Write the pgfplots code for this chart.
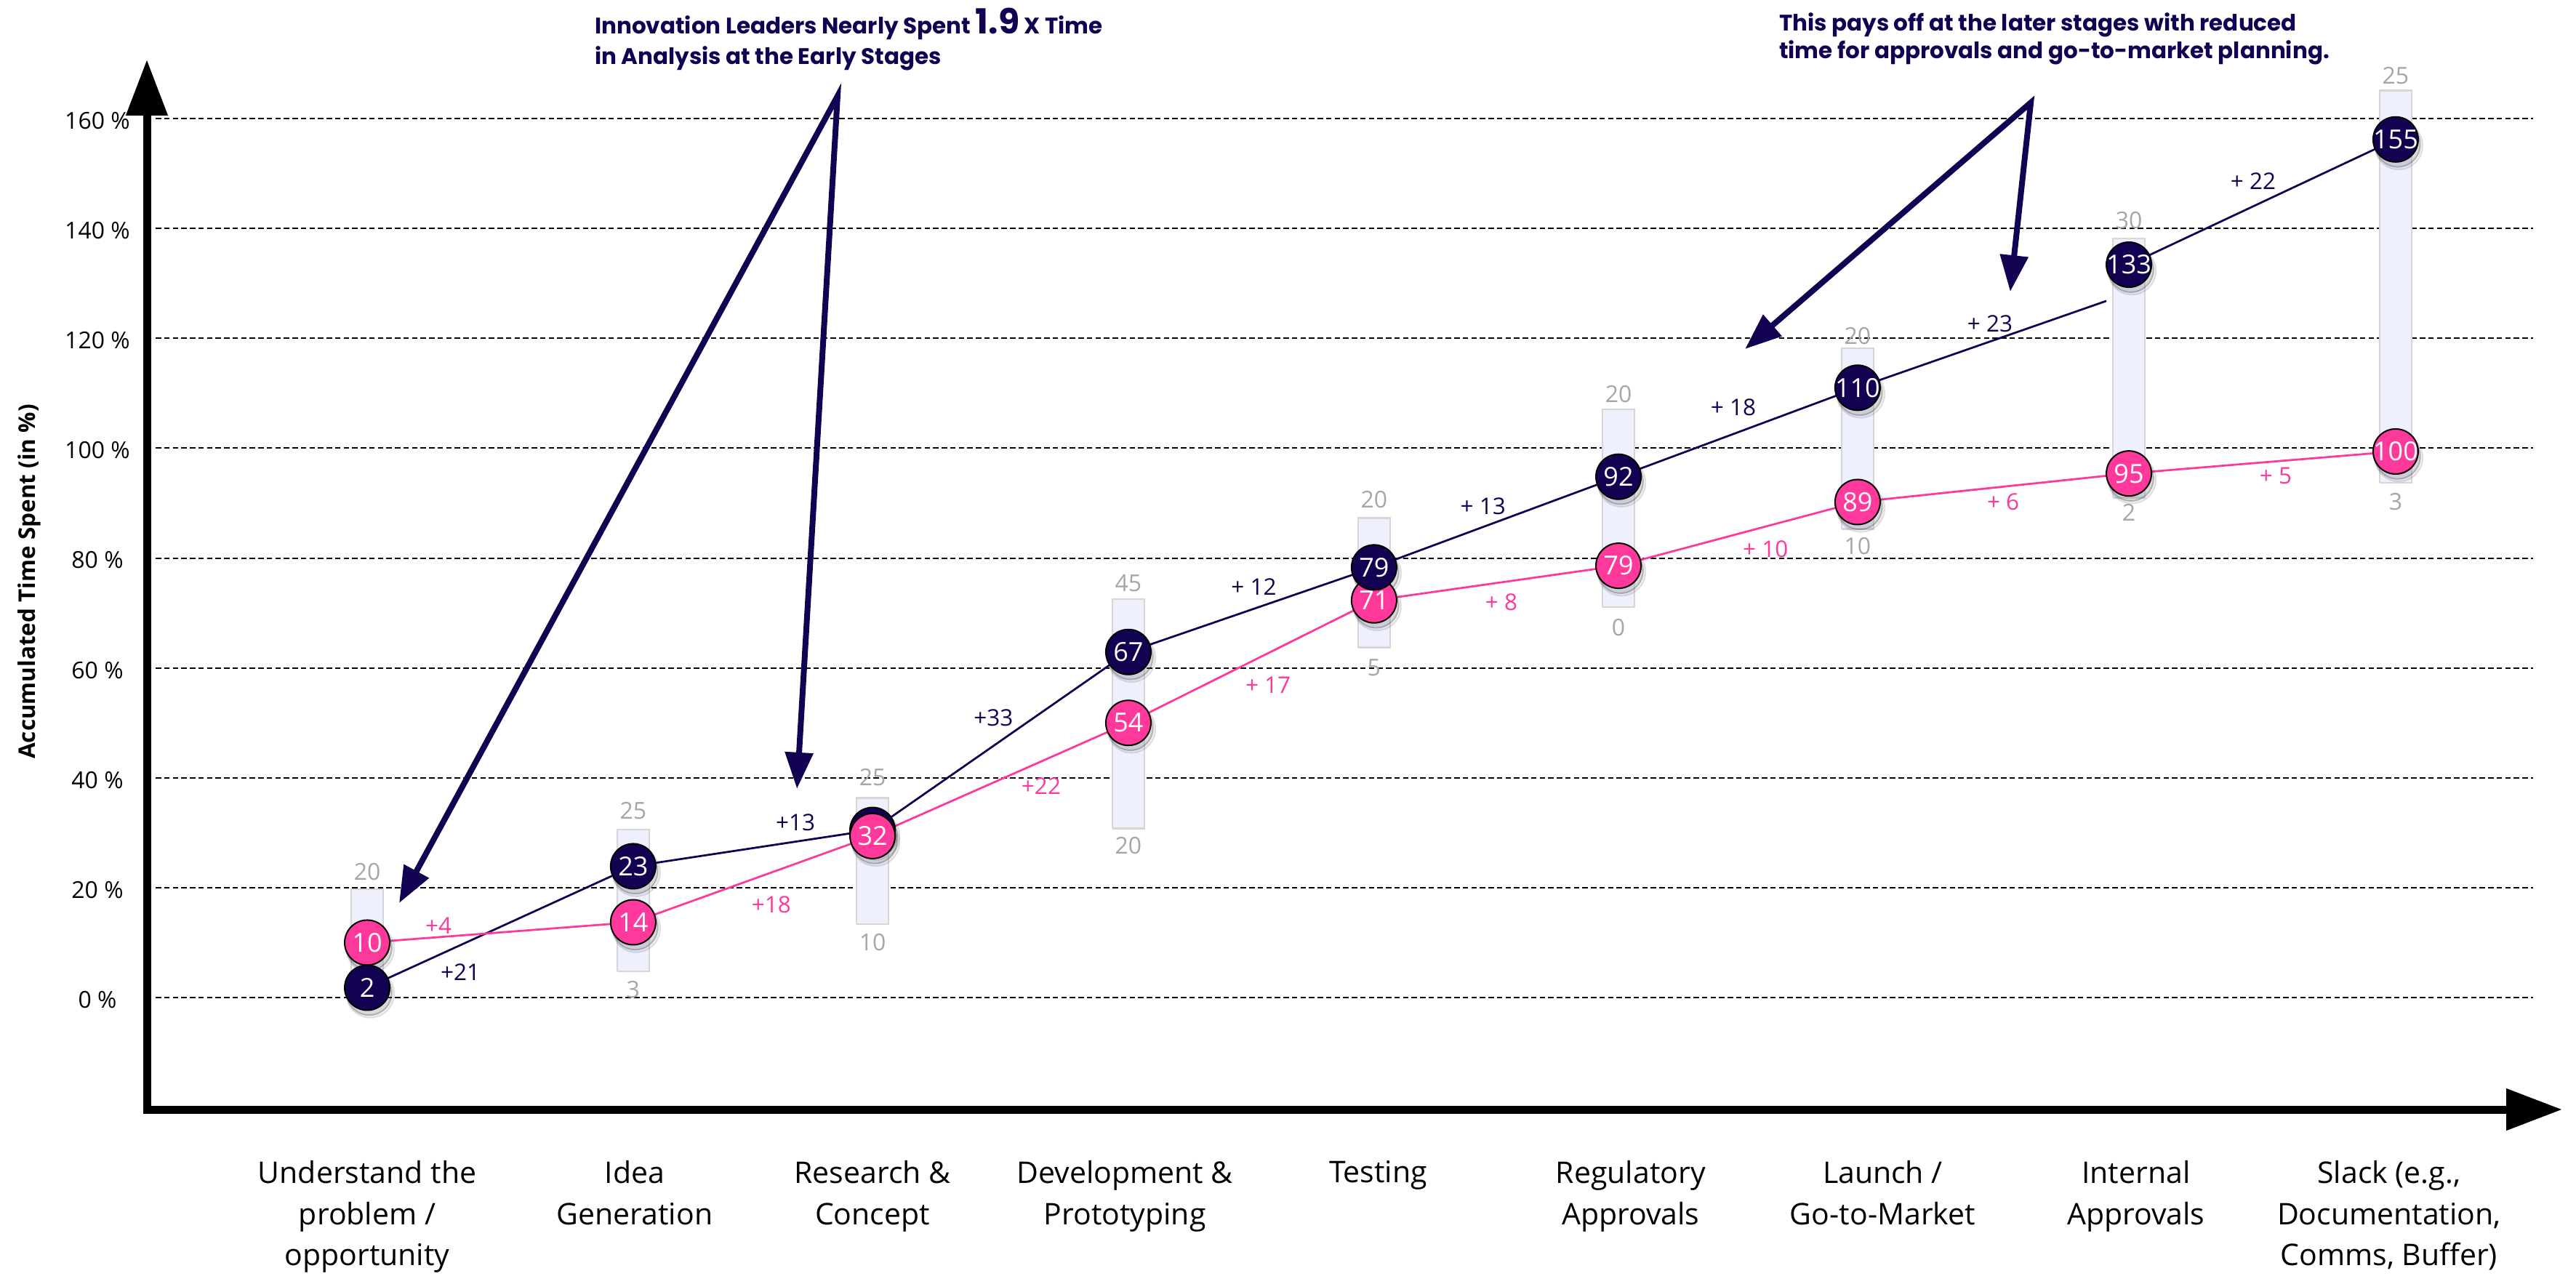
\documentclass[border=0pt]{standalone}
\usepackage{fontspec}
\setmainfont{Open Sans}
\newfontfamily\poppins{Poppins}
\usepackage{pgfplots}
\pgfplotsset{compat=1.18}
\usetikzlibrary{arrows.meta}
\definecolor{navy}{RGB}{19,2,82}
\definecolor{pinkc}{RGB}{255,56,156}
\definecolor{barfill}{RGB}{238,241,253}
\definecolor{barline}{RGB}{214,214,214}
\definecolor{lblgray}{RGB}{166,166,166}
\newcommand\fs[2]{\fontsize{#1}{#2}\selectfont}
\begin{document}
\begin{tikzpicture}
\path[use as bounding box] (0,0) rectangle (708.6pt,350.8pt);
\begin{axis}[
  at={(40.4pt,45.6pt)}, anchor=south west,
  scale only axis, width=664.4pt, height=288.8pt,
  xmin=-0.869, xmax=8.657, ymin=-20.38, ymax=170.73,
  clip=false,
  axis x line*=bottom, axis y line*=left,
  axis line style={line width=2.2pt, line cap=rect, -{Triangle[length=15.4pt,width=11pt]}},
  major tick length=0pt,
  ytick={0,20,40,60,80,100,120,140,160},
  yticklabels={0 \%,20 \%,40 \%,60 \%,80 \%,100 \%,120 \%,140 \%,160 \%},
  yticklabel style={anchor=center, inner sep=0pt, xshift=-13.6pt, yshift=-0.6pt, font=\fs{6.4}{7.5}},
  xtick={0,1.055,1.993,2.988,3.987,4.983,5.977,6.976,7.974},
  xticklabels={{Understand the\\problem /\\opportunity},{Idea\\Generation},{Research \&\\Concept},{Development \&\\Prototyping},{Testing},{Regulatory\\Approvals},{Launch /\\Go-to-Market},{Internal\\Approvals},{Slack (e.g.,\\Documentation,\\Comms, Buffer)}},
  xticklabel style={anchor=north, align=center, inner sep=0pt, yshift=-13.9pt, font=\fs{8.2}{11.3}},
]
% grid lines
\pgfplotsinvokeforeach{0,20,40,60,80,100,120,140,160}{
  \addplot[black, line width=0.4pt, dash pattern=on 1.5pt off 0.85pt] coordinates {(-0.834,#1) (8.542,#1)};
}
% range bars
\addplot[fill=barfill, draw=barline, line width=0.5pt] coordinates {(-0.063,0) (0.063,0) (0.063,19.7) (-0.063,19.7) (-0.063,0)};
\addplot[fill=barfill, draw=barline, line width=0.5pt] coordinates {(0.986,4.8) (1.112,4.8) (1.112,30.6) (0.986,30.6) (0.986,4.8)};
\addplot[fill=barfill, draw=barline, line width=0.5pt] coordinates {(1.930,13.4) (2.056,13.4) (2.056,36.3) (1.930,36.3) (1.930,13.4)};
\addplot[fill=barfill, draw=barline, line width=0.5pt] coordinates {(2.939,30.8) (3.065,30.8) (3.065,72.5) (2.939,72.5) (2.939,30.8)};
\addplot[fill=barfill, draw=barline, line width=0.5pt] coordinates {(3.908,63.7) (4.034,63.7) (4.034,87.3) (3.908,87.3) (3.908,63.7)};
\addplot[fill=barfill, draw=barline, line width=0.5pt] coordinates {(4.872,71.1) (4.998,71.1) (4.998,107.1) (4.872,107.1) (4.872,71.1)};
\addplot[fill=barfill, draw=barline, line width=0.5pt] coordinates {(5.815,85.3) (5.941,85.3) (5.941,118.2) (5.815,118.2) (5.815,85.3)};
\addplot[fill=barfill, draw=barline, line width=0.5pt] coordinates {(6.885,91.0) (7.011,91.0) (7.011,138.2) (6.885,138.2) (6.885,91.0)};
\addplot[fill=barfill, draw=barline, line width=0.5pt] coordinates {(7.937,93.7) (8.063,93.7) (8.063,165.1) (7.937,165.1) (7.937,93.7)};
% bar range labels
\addplot[draw=none, mark=none, point meta=explicit symbolic, nodes near coords, nodes near coords align=center,
  nodes near coords style={text=lblgray, inner sep=0pt, font=\fs{6.4}{7.5}}] coordinates {
  (0,22.9)[20] (1.049,34.0)[25] (1.993,40.1)[25] (3.002,75.4)[45] (3.971,90.7)[20]
  (4.935,109.8)[20] (5.878,120.4)[20] (6.948,141.5)[30] (8.0,167.8)[25]
  (1.049,1.4)[3] (1.993,10.0)[10] (3.002,27.7)[20] (3.971,60.1)[5]
  (4.935,67.3)[0] (5.878,82.2)[10] (6.948,88.3)[2] (8.0,90.3)[3]};
% increment labels
\addplot[draw=none, mark=none, point meta=explicit symbolic, nodes near coords, nodes near coords align=center,
  nodes near coords style={text=navy, inner sep=0pt, font=\fs{6.3}{7.5}}] coordinates {
  (0.367,4.67)[+21] (1.689,31.8)[+13] (2.47,50.95)[+33] (3.497,74.8)[+ 12]
  (4.401,89.5)[+ 13] (5.388,107.5)[+ 18] (6.40,122.6)[+ 23] (7.438,148.6)[+ 22]};
\addplot[draw=none, mark=none, point meta=explicit symbolic, nodes near coords, nodes near coords align=center,
  nodes near coords style={text=pinkc, inner sep=0pt, font=\fs{6.3}{7.5}}] coordinates {
  (0.281,13.1)[+4] (1.594,16.9)[+18] (2.658,38.5)[+22] (3.553,56.9)[+ 17]
  (4.473,72.0)[+ 8] (5.515,81.6)[+ 10] (6.452,90.2)[+ 6] (7.527,95.0)[+ 5]};
% lines
\addplot[navy, line width=0.55pt] coordinates {(0,1.8) (1.049,23.9) (1.993,30.5) (3.002,62.9) (3.971,78.3) (4.935,94.8) (5.878,111.0) (6.859,126.8)};
\addplot[navy, line width=0.55pt] coordinates {(6.948,133.4) (8.0,156.2)};
\addplot[pinkc, line width=0.55pt] coordinates {(0,10.0) (1.049,13.7) (1.993,29.4) (3.002,50.0) (3.971,72.3) (4.935,78.6) (5.878,90.2) (6.948,95.4) (8.0,99.4)};
% marker shadows (offset slightly right and down)
\addplot[only marks, mark=*, mark size=6.6pt, mark options={draw=none, fill=gray, opacity=0.10}] coordinates {
  (0.012,0.7) (1.061,22.8) (2.005,29.4) (3.014,61.8) (3.983,77.2) (4.947,93.7) (5.890,109.9) (6.960,132.3) (8.012,155.1)
  (0.012,8.9) (1.061,12.6) (2.005,28.3) (3.014,48.9) (3.983,71.2) (4.947,77.5) (5.890,89.1) (6.960,94.3) (8.012,98.3)};
\addplot[only marks, mark=*, mark size=6.2pt, mark options={draw=none, fill=gray, opacity=0.22}] coordinates {
  (0.008,0.9) (1.057,23.0) (2.001,29.6) (3.010,62.0) (3.979,77.4) (4.943,93.9) (5.886,110.1) (6.956,132.5) (8.008,155.3)
  (0.008,9.1) (1.057,12.8) (2.001,28.5) (3.010,49.1) (3.979,71.4) (4.943,77.7) (5.886,89.3) (6.956,94.5) (8.008,98.5)};
% navy marker behind pink at Research
\addplot[only marks, mark=*, mark size=6.2pt, mark options={draw=none, fill=navy}] coordinates {(1.993,30.5)};
% pink markers
\addplot[only marks, mark=*, mark size=6.2pt, mark options={draw=none, fill=pinkc},
  point meta=explicit symbolic, nodes near coords, nodes near coords align=center,
  nodes near coords style={text=white, inner sep=0pt, font=\fs{7.2}{8}}] coordinates {
  (0,10.0)[10] (1.049,13.7)[14] (1.993,29.4)[32] (3.002,50.0)[54] (3.971,72.3)[71]
  (4.935,78.6)[79] (5.878,90.2)[89] (6.948,95.4)[95] (8.0,99.4)[100]};
% navy markers
\addplot[only marks, mark=*, mark size=6.2pt, mark options={draw=none, fill=navy},
  point meta=explicit symbolic, nodes near coords, nodes near coords align=center,
  nodes near coords style={text=white, inner sep=0pt, font=\fs{7.2}{8}}] coordinates {
  (0,1.8)[2] (1.049,23.9)[23] (3.002,62.9)[67] (3.971,78.3)[79]
  (4.935,94.8)[92] (5.878,111.0)[110] (6.948,133.4)[133] (8.0,156.2)[155]};
% annotation arrows
\draw[navy, line width=1.6pt, line join=miter, {Triangle[length=10pt,width=7.5pt]}-{Triangle[length=10pt,width=7.5pt]}]
  (axis cs:0.126,17.2) -- (axis cs:1.855,164.1) -- (axis cs:1.695,38.0);
\draw[navy, line width=1.6pt, line join=miter, {Triangle[length=10pt,width=7.5pt]}-{Triangle[length=10pt,width=7.5pt]}]
  (axis cs:5.434,118.05) -- (axis cs:6.561,162.9) -- (axis cs:6.480,128.5);
% annotation texts
\node[anchor=base west, inner sep=0pt, text=navy, font=\poppins\bfseries\fs{6.2}{7.5}] at (axis cs:0.895,175.4)
  {Innovation Leaders Nearly Spent {\fs{9.5}{10}1.9} X Time};
\node[anchor=base west, inner sep=0pt, text=navy, font=\poppins\bfseries\fs{6.2}{7.5}] at (axis cs:0.895,169.9)
  {in Analysis at the Early Stages};
\node[anchor=base west, inner sep=0pt, text=navy, font=\poppins\bfseries\fs{6.2}{7.5}] at (axis cs:5.566,175.9)
  {This pays off at the later stages with reduced};
\node[anchor=base west, inner sep=0pt, text=navy, font=\poppins\bfseries\fs{6.2}{7.5}] at (axis cs:5.566,170.98)
  {time for approvals and go-to-market planning.};
% y axis title
\node[rotate=90, anchor=center, inner sep=0pt, font=\bfseries\fs{6.3}{7.5}] at ([xshift=-32.4pt]axis description cs:0,0.5028)
  {Accumulated Time Spent (in \%)};
\end{axis}
\end{tikzpicture}
\end{document}
